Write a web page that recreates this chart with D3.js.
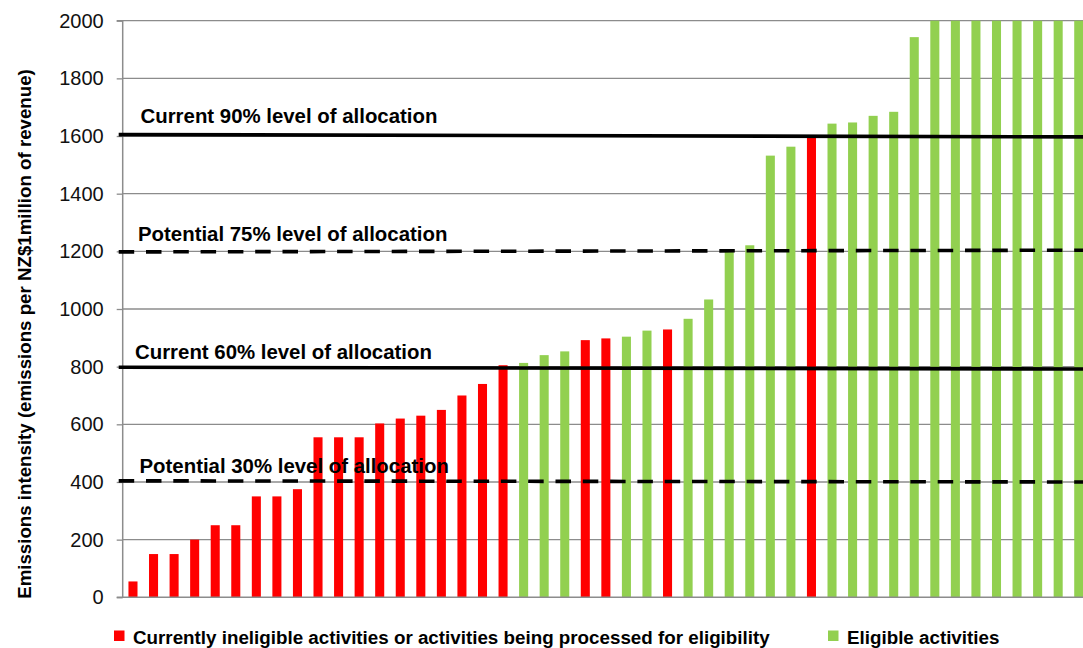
<!DOCTYPE html>
<html>
<head>
<meta charset="utf-8">
<script src="https://cdn.jsdelivr.net/npm/d3@7"></script>
<style>
  html, body { margin: 0; padding: 0; background: #fff; }
  svg { display: block; font-family: "Liberation Sans", Arial, sans-serif; }
</style>
</head>
<body>
<div id="chart"></div>
<script>
// ---------------- data ----------------
const activities = d3.range(1, 48); // 47 activities, unlabeled
const activityValues = [
  55, 150, 150, 200, 250, 250, 350, 350, 375, 555,
  555, 555, 603, 620, 630, 650, 700, 740, 805, 813,
  840, 853, 892, 898, 904, 925, 929, 966, 1033, 1200,
  1221, 1532, 1563, 1600, 1643, 1647, 1670, 1684, 1943, 2000,
  2000, 2000, 2000, 2000, 2000, 2000, 2000
];
const activityStatus = [
  "ineligible","ineligible","ineligible","ineligible","ineligible","ineligible","ineligible","ineligible","ineligible","ineligible",
  "ineligible","ineligible","ineligible","ineligible","ineligible","ineligible","ineligible","ineligible","ineligible","eligible",
  "eligible","eligible","ineligible","ineligible","eligible","eligible","ineligible","eligible","eligible","eligible",
  "eligible","eligible","eligible","ineligible","eligible","eligible","eligible","eligible","eligible","eligible",
  "eligible","eligible","eligible","eligible","eligible","eligible","eligible"
];
const seriesKeys = ["ineligible", "eligible"];
const seriesNames = ["Currently ineligible activities or activities being processed for eligibility", "Eligible activities"];
const seriesColors = ["#FF0000", "#92D050"];

const levelLabels = ["Current 90% level of allocation", "Potential 75% level of allocation", "Current 60% level of allocation", "Potential 30% level of allocation"];
const levelStart = [1605, 1198, 798, 404];
const levelEnd = [1597, 1204, 792, 400];
const levelDashed = [false, true, false, true];

const yTicks = [0, 200, 400, 600, 800, 1000, 1200, 1400, 1600, 1800, 2000];
const yTitle = "Emissions intensity (emissions per NZ$1million of revenue)";

// ---------------- layout ----------------
const W = 1083, H = 648;
const plotLeft = 122.7, plotTop = 20.7, plotBottom = 597.3;
const step = 20.56;
const plotRight = plotLeft + step * activities.length;

const svg = d3.select("#chart").append("svg").attr("width", W).attr("height", H);

const x = d3.scaleBand().domain(activities).range([plotLeft, plotRight])
  .paddingInner(0.56).paddingOuter(0.28);
const y = d3.scaleLinear().domain([0, 2000]).range([plotBottom, plotTop]);
const color = d3.scaleOrdinal().domain(seriesKeys).range(seriesColors);

// gridlines
svg.append("g").selectAll("line").data(yTicks.filter(t => t > 0)).join("line")
  .attr("x1", plotLeft).attr("x2", W)
  .attr("y1", d => y(d)).attr("y2", d => y(d))
  .attr("stroke", "#8c8c8c").attr("stroke-width", 1.3);

// bars
const rows = activities.map((a, i) => ({ a, v: activityValues[i], s: activityStatus[i] }));
svg.append("g").selectAll("rect").data(rows).join("rect")
  .attr("x", d => x(d.a)).attr("width", x.bandwidth())
  .attr("y", d => y(Math.min(d.v, 2000))).attr("height", d => y(0) - y(Math.min(d.v, 2000)))
  .attr("fill", d => color(d.s));

// y axis
const yAxis = d3.axisLeft(y).tickValues(yTicks).tickSize(6).tickPadding(13).tickFormat(d3.format("d"));
const gy = svg.append("g").attr("transform", `translate(${plotLeft},0)`).call(yAxis);
gy.select(".domain").attr("stroke", "#8c8c8c").attr("stroke-width", 1.5).attr("d", `M-6,${plotTop}H0V${plotBottom}H-6`);
gy.selectAll(".tick line").attr("stroke", "#8c8c8c").attr("stroke-width", 1.3);
gy.selectAll(".tick text").attr("fill", "#111").style("font-size", "20px")
  .style("font-family", "'Liberation Sans', Arial, sans-serif");

// x baseline
svg.append("line").attr("x1", plotLeft).attr("x2", W).attr("y1", y(0)).attr("y2", y(0))
  .attr("stroke", "#8c8c8c").attr("stroke-width", 1.5);

// reference levels
const labelOffsets = [12, 11, 8, 8];
const labelX = [140.5, 138, 135, 139.5];
levelLabels.forEach((lab, i) => {
  svg.append("line")
    .attr("x1", plotLeft - 4).attr("x2", W)
    .attr("y1", y(levelStart[i]))
    .attr("y2", y(levelStart[i]) + (y(levelEnd[i]) - y(levelStart[i])) * (W - plotLeft + 4) / (plotRight - plotLeft + 4))
    .attr("stroke", "#000").attr("stroke-width", 3.6)
    .attr("stroke-dasharray", levelDashed[i] ? "15.5,11.8" : null);
  svg.append("text").attr("x", labelX[i]).attr("y", y(levelStart[i]) - labelOffsets[i])
    .attr("font-weight", "bold").attr("font-size", "20.4px").attr("fill", "#000").text(lab);
});

// y title
svg.append("text").attr("transform", `translate(31,334) rotate(-90)`)
  .attr("text-anchor", "middle").attr("font-weight", "bold").attr("font-size", "18.7px")
  .attr("fill", "#000").text(yTitle);

// legend
const legendX = [114, 828];
const lg = svg.append("g");
seriesKeys.forEach((k, i) => {
  lg.append("rect").attr("x", legendX[i]).attr("y", 630.5).attr("width", 10.5).attr("height", 10.5).attr("fill", color(k));
  lg.append("text").attr("x", legendX[i] + 19).attr("y", 643.5)
    .attr("font-weight", "bold").attr("font-size", "18.8px").attr("fill", "#000").text(seriesNames[i]);
});
</script>
</body>
</html>
